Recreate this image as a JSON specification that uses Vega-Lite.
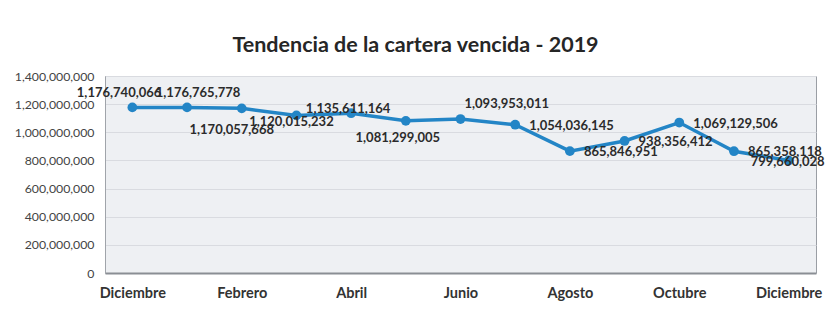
{
  "$schema": "https://vega.github.io/schema/vega-lite/v6.json",
  "autosize": {"type": "none"},
  "width": 711,
  "height": 197,
  "padding": {"left": 105, "top": 76, "right": 9, "bottom": 41},
  "background": "white",
  "config": {
    "font": "Lato",
    "view": {"fill": "#eef0f3", "stroke": "#9a9ea4", "strokeWidth": 1}
  },
  "title": {
    "text": "Tendencia de la cartera vencida - 2019",
    "fontSize": 21.5,
    "fontWeight": "bold",
    "color": "#262626",
    "font": "Lato",
    "anchor": "middle",
    "dx": -45,
    "offset": 14
  },
  "data": {
    "values": [
      {"periodo": "2018-12", "saldo": 1176740066},
      {"periodo": "2019-01", "saldo": 1176765778},
      {"periodo": "2019-02", "saldo": 1170057668},
      {"periodo": "2019-03", "saldo": 1120015232},
      {"periodo": "2019-04", "saldo": 1135611164},
      {"periodo": "2019-05", "saldo": 1081299005},
      {"periodo": "2019-06", "saldo": 1093953011},
      {"periodo": "2019-07", "saldo": 1054036145},
      {"periodo": "2019-08", "saldo": 865846951},
      {"periodo": "2019-09", "saldo": 938356412},
      {"periodo": "2019-10", "saldo": 1069129506},
      {"periodo": "2019-11", "saldo": 865358118},
      {"periodo": "2019-12", "saldo": 799660028}
    ]
  },
  "encoding": {
    "x": {
      "field": "periodo",
      "type": "ordinal",
      "sort": null,
      "scale": {"type": "point", "padding": 0.5},
      "axis": {
        "title": null,
        "labelAngle": 0,
        "values": ["2018-12", "2019-02", "2019-04", "2019-06", "2019-08", "2019-10", "2019-12"],
        "labelExpr": "['Enero','Febrero','Marzo','Abril','Mayo','Junio','Julio','Agosto','Septiembre','Octubre','Noviembre','Diciembre'][toNumber(slice(datum.value,5))-1]",
        "labelFont": "Lato",
        "labelFontSize": 14.5,
        "labelFontWeight": "bold",
        "labelColor": "#333333",
        "labelPadding": 13,
        "ticks": false,
        "domain": true,
        "domainColor": "#8a8e94",
        "domainWidth": 2
      }
    },
    "y": {
      "field": "saldo",
      "type": "quantitative",
      "scale": {"domain": [0, 1400000000]},
      "axis": {
        "title": null,
        "values": [0, 200000000, 400000000, 600000000, 800000000, 1000000000, 1200000000, 1400000000],
        "format": ",d",
        "labelFont": "Lato",
        "labelFontSize": 12.3,
        "labelColor": "#444444",
        "labelPadding": 11,
        "ticks": false,
        "domain": true,
        "domainColor": "#a0a4aa",
        "gridColor": "#d9dbe0",
        "gridWidth": 1
      }
    }
  },
  "layer": [
    {"mark": {"type": "line", "color": "#2385c6", "strokeWidth": 3.5}},
    {"mark": {"type": "point", "filled": true, "size": 95, "opacity": 1, "color": "#2385c6"}},
    {
      "transform": [{"filter": {"field": "periodo", "equal": "2018-12"}}],
      "mark": {"type": "text", "align": "right", "dx": 29, "dy": -14, "fontSize": 13, "fontWeight": "bold", "color": "#2b2b2b"},
      "encoding": {"text": {"field": "saldo", "format": ",d"}}
    },
    {
      "transform": [{"filter": {"field": "periodo", "equal": "2019-01"}}],
      "mark": {"type": "text", "align": "center", "dx": 11, "dy": -14, "fontSize": 13, "fontWeight": "bold", "color": "#2b2b2b"},
      "encoding": {"text": {"field": "saldo", "format": ",d"}}
    },
    {
      "transform": [{"filter": {"field": "periodo", "equal": "2019-02"}}],
      "mark": {"type": "text", "align": "center", "dx": -10, "dy": 22, "fontSize": 13, "fontWeight": "bold", "color": "#2b2b2b"},
      "encoding": {"text": {"field": "saldo", "format": ",d"}}
    },
    {
      "transform": [{"filter": {"field": "periodo", "equal": "2019-03"}}],
      "mark": {"type": "text", "align": "center", "dx": -5, "dy": 7, "fontSize": 13, "fontWeight": "bold", "color": "#2b2b2b"},
      "encoding": {"text": {"field": "saldo", "format": ",d"}}
    },
    {
      "transform": [{"filter": {"field": "periodo", "equal": "2019-04"}}],
      "mark": {"type": "text", "align": "center", "dx": -3, "dy": -4, "fontSize": 13, "fontWeight": "bold", "color": "#2b2b2b"},
      "encoding": {"text": {"field": "saldo", "format": ",d"}}
    },
    {
      "transform": [{"filter": {"field": "periodo", "equal": "2019-05"}}],
      "mark": {"type": "text", "align": "center", "dx": -8, "dy": 17, "fontSize": 13, "fontWeight": "bold", "color": "#2b2b2b"},
      "encoding": {"text": {"field": "saldo", "format": ",d"}}
    },
    {
      "transform": [{"filter": {"field": "periodo", "equal": "2019-06"}}],
      "mark": {"type": "text", "align": "left", "dx": 4, "dy": -15, "fontSize": 13, "fontWeight": "bold", "color": "#2b2b2b"},
      "encoding": {"text": {"field": "saldo", "format": ",d"}}
    },
    {
      "transform": [{"filter": {"field": "periodo", "oneOf": ["2019-07", "2019-08", "2019-09", "2019-10", "2019-11"]}}],
      "mark": {"type": "text", "align": "left", "dx": 14, "dy": 1, "fontSize": 13, "fontWeight": "bold", "color": "#2b2b2b"},
      "encoding": {"text": {"field": "saldo", "format": ",d"}}
    },
    {
      "transform": [{"filter": {"field": "periodo", "equal": "2019-12"}}],
      "mark": {"type": "text", "align": "center", "dx": -1, "dy": 2, "fontSize": 13, "fontWeight": "bold", "color": "#2b2b2b"},
      "encoding": {"text": {"field": "saldo", "format": ",d"}}
    }
  ]
}
